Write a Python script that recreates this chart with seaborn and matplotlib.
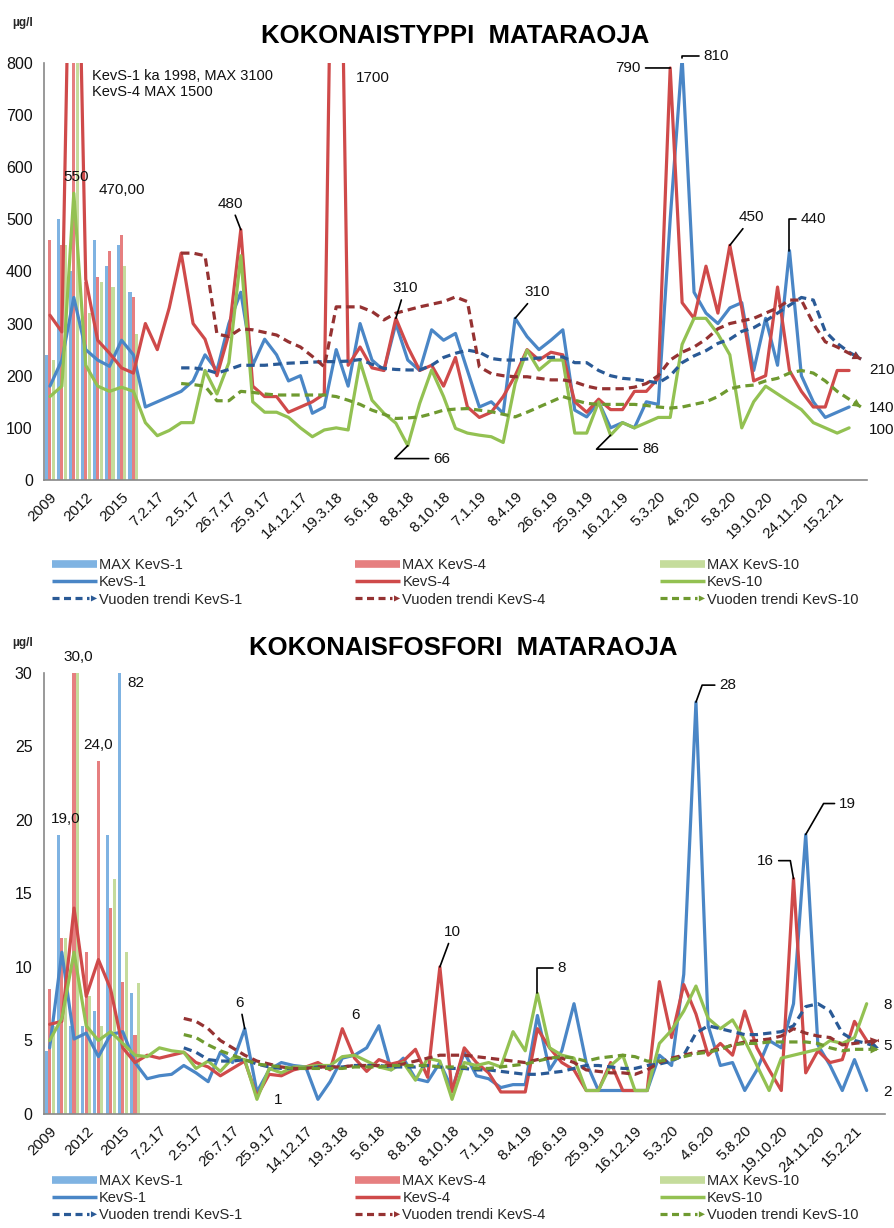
import numpy as np
import pandas as pd
import matplotlib
matplotlib.use("Agg")
import matplotlib.pyplot as plt
import seaborn as sns
from matplotlib.lines import Line2D
from matplotlib.patches import FancyArrowPatch
from matplotlib.legend_handler import HandlerLine2D

sns.set_theme(style="white")
plt.rcParams['font.family'] = ['Liberation Sans', 'DejaVu Sans']

# ---------------- data ----------------
years = ["2009", "2010", "2011", "2012", "2013", "2014", "2015", "2016"]
tick_labels = ["2009", "2012", "2015", "7.2.17", "2.5.17", "26.7.17", "25.9.17", "14.12.17",
               "19.3.18", "5.6.18", "8.8.18", "8.10.18", "7.1.19", "8.4.19", "26.6.19",
               "25.9.19", "16.12.19", "5.3.20", "4.6.20", "5.8.20", "19.10.20", "24.11.20",
               "15.2.21"]
n_categories = 69
trend_start = 11

series_names = ["KevS-1", "KevS-4", "KevS-10"]

# Kokonaistyppi (N)
max1_N = [240, 500, 400, 280, 460, 410, 450, 360]
max4_N = [460, 450, 1500, 380, 390, 440, 470, 350]
max10_N = [230, 450, 900, 320, 380, 370, 410, 280]

kevs1_N = [180, 230, 350, 250, 230, 218, 268, 240, 140, 150, 160, 170, 190, 240, 210, 300, 360, 220, 270, 240,
           190, 200, 128, 140, 250, 180, 300, 230, 210, 300, 230, 210, 288, 268, 281, 210, 140, 150, 128, 310,
           275, 250, 268, 288, 134, 121, 150, 100, 110, 100, 150, 145, 500, 810, 360, 320, 300, 330, 340, 210,
           310, 220, 440, 200, 150, 120, 130, 140]
kevs4_N = [316, 284, 1500, 385, 268, 243, 215, 205, 300, 250, 330, 435, 300, 270, 200, 280, 480, 180, 160, 160,
           130, 140, 150, 165, 1700, 220, 255, 215, 210, 310, 255, 210, 220, 180, 235, 140, 120, 130, 160, 200,
           250, 230, 245, 240, 150, 130, 155, 135, 135, 170, 170, 195, 790, 340, 310, 410, 320, 450, 330, 190,
           200, 370, 210, 170, 140, 140, 210, 210]
kevs10_N = [160, 180, 550, 220, 180, 170, 178, 170, 110, 85, 95, 110, 110, 210, 165, 225, 430, 150, 130, 130,
            120, 100, 83, 96, 100, 96, 227, 153, 128, 109, 66, 147, 211, 160, 99, 90, 86, 83, 72, 185,
            249, 211, 230, 230, 90, 90, 150, 86, 110, 100, 110, 120, 120, 260, 310, 310, 280, 240, 100, 150,
            180, 165, 150, 135, 110, 100, 90, 100]
trend1_N = [215, 215, 212, 205, 212, 220, 220, 220, 222, 224,
            225, 226, 227, 227, 228, 231, 222, 214, 212, 211,
            211, 220, 235, 243, 249, 245, 233, 230, 230, 232,
            234, 235, 236, 225, 225, 210, 200, 195, 193, 190,
            186, 200, 225, 238, 248, 262, 270, 285, 292, 305,
            320, 335, 350, 345, 285, 262, 245, 232]
trend4_N = [435, 435, 430, 280, 275, 290, 288, 283, 278, 265,
            255, 237, 217, 332, 332, 332, 323, 307, 320, 326,
            332, 337, 342, 351, 342, 217, 204, 200, 198, 198,
            195, 192, 192, 188, 180, 175, 175, 175, 178, 185,
            200, 230, 245, 255, 270, 290, 300, 305, 310, 320,
            330, 345, 345, 300, 265, 255, 243, 232]
trend10_N = [185, 183, 180, 152, 152, 170, 168, 165, 163, 163,
             163, 163, 163, 160, 153, 145, 134, 126, 118, 119,
             121, 127, 134, 136, 137, 134, 131, 126, 121, 130,
             140, 150, 160, 153, 147, 145, 145, 145, 145, 143,
             140, 138, 140, 145, 150, 160, 175, 180, 182, 190,
             195, 205, 210, 205, 190, 170, 155, 140]

# Kokonaisfosfori (P)
max1_P = [4.3, 19, 6, 6, 7, 19, 82, 8.2]
max4_P = [8.5, 12, 30, 11, 24, 14, 9, 5.4]
max10_P = [6, 12, 30, 8, 6, 16, 11, 8.9]

kevs1_P = [4.5, 11, 5.1, 5.5, 3.9, 5.4, 5.6, 3.5, 2.4, 2.6, 2.7, 3.3, 2.8, 2.2, 4.2, 3.5, 5.8, 1.5, 3.0, 3.5,
           3.3, 3.2, 1.0, 2.2, 3.8, 4.0, 4.5, 6.0, 3.0, 3.8, 2.4, 2.2, 3.5, 1.7, 4.2, 2.6, 2.4, 1.8, 2.0, 2.0,
           6.7, 3.0, 4.3, 7.5, 3.5, 1.6, 1.6, 1.6, 1.6, 1.6, 4.0, 3.3, 9.5, 28, 6.0, 3.3, 3.5, 1.6, 3.0, 5.0,
           4.5, 7.5, 19, 4.7, 3.3, 1.6, 3.7, 1.6]
kevs4_P = [6.1, 6.3, 14, 8, 10.5, 8.5, 4.5, 3.5, 4.0, 3.8, 4.0, 4.2, 3.5, 3.2, 2.6, 3.1, 3.6, 1.2, 2.7, 2.6,
           3.0, 3.2, 3.5, 3.0, 5.8, 3.8, 2.9, 3.7, 3.4, 3.6, 4.4, 2.5, 10, 1.5, 4.5, 3.5, 2.8, 1.5, 1.5, 1.5,
           5.8, 4.5, 3.5, 3.0, 1.6, 1.6, 3.5, 1.6, 1.6, 1.6, 9.0, 5.2, 8.8, 6.8, 4.0, 4.8, 4.0, 7.0, 4.5, 3.0,
           1.6, 16, 2.8, 4.3, 3.5, 3.7, 6.3, 5.0]
kevs10_P = [5.0, 6.5, 11, 6.0, 5.0, 5.6, 4.8, 4.0, 3.9, 4.5, 4.3, 4.2, 3.1, 3.6, 2.9, 3.8, 3.7, 1.0, 3.1, 2.8,
            3.2, 3.2, 3.3, 3.3, 3.9, 4.0, 3.6, 3.2, 3.0, 3.5, 2.3, 3.8, 3.6, 1.0, 3.5, 3.3, 3.5, 3.2, 5.6, 4.3,
            8.2, 4.5, 4.0, 3.8, 1.6, 1.6, 3.3, 4.0, 1.6, 1.6, 4.8, 5.7, 7.0, 8.7, 6.5, 5.8, 6.4, 5.0, 3.3, 1.6,
            3.8, 4.0, 4.2, 4.4, 5.0, 4.8, 5.2, 7.5]
trend1_P = [4.5, 4.2, 3.7, 3.6, 3.6, 3.7, 3.4, 3.2, 3.1, 3.1,
            3.1, 3.2, 3.2, 3.2, 3.3, 3.3, 3.3, 3.2, 3.2, 3.2,
            3.3, 3.2, 3.1, 3.1, 3.0, 3.0, 2.9, 2.8, 2.7, 2.7,
            2.8, 2.9, 3.1, 3.3, 3.3, 3.2, 3.1, 3.1, 3.3, 3.4,
            3.6, 4.0, 5.5, 6.0, 5.8, 5.6, 5.4, 5.4, 5.5, 5.6,
            6.0, 7.3, 7.5, 7.0, 5.5, 5.0, 4.8, 4.5]
trend4_P = [6.5, 6.3, 5.8, 5.0, 4.5, 4.0, 3.6, 3.4, 3.2, 3.1,
            3.1, 3.2, 3.2, 3.2, 3.3, 3.3, 3.3, 3.3, 3.4, 3.6,
            3.8, 4.0, 4.0, 4.0, 3.9, 3.8, 3.7, 3.6, 3.5, 3.7,
            3.8, 3.8, 3.5, 3.0, 2.9, 2.8, 2.8, 2.7, 3.0, 3.5,
            3.8, 4.0, 4.2, 4.3, 4.4, 4.7, 4.9, 5.0, 5.1, 5.3,
            5.8, 5.5, 5.3, 5.2, 4.7, 4.8, 4.9, 5.0]
trend10_P = [5.4, 5.2, 4.7, 4.3, 4.0, 3.7, 3.4, 3.3, 3.2, 3.1,
             3.1, 3.1, 3.1, 3.1, 3.2, 3.2, 3.2, 3.3, 3.3, 3.3,
             3.3, 3.2, 3.2, 3.2, 3.1, 3.1, 3.2, 3.3, 3.4, 3.6,
             3.8, 3.9, 3.8, 3.6, 3.8, 3.9, 4.0, 3.9, 3.6, 3.6,
             3.7, 3.9, 4.1, 4.2, 4.4, 4.7, 4.8, 4.8, 4.9, 4.9,
             4.9, 4.9, 4.8, 4.5, 4.3, 4.4, 4.4, 4.4]

# ---------------- style ----------------
bar_colors = ["#7fb3e2", "#e67f80", "#c5dc9c"]
line_colors = ["#4a86c6", "#cf4a4a", "#93c152"]
trend_colors = ["#2a5a96", "#953232", "#6f9a30"]
axis_grey = "#888888"
PX = 0.72  # points per pixel at 100 dpi

fig = plt.figure(figsize=(8.94, 12.28), dpi=100)
fig.patch.set_facecolor("white")
ax1 = fig.add_axes([0.0492, 0.6091, 0.9206, 0.3398])
ax2 = fig.add_axes([0.0487, 0.0928, 0.9412, 0.3594])


def draw_panel(ax, maxes, lines, trends, ymax, ystep):
    df = pd.DataFrame({
        "x": np.tile(np.arange(len(years)), 3),
        "val": np.concatenate([np.asarray(m, float) for m in maxes]),
        "series": np.repeat(["MAX " + s for s in series_names], len(years)),
    })
    sns.barplot(data=df, x="x", y="val", hue="series", native_scale=True,
                palette=bar_colors, width=0.86, gap=0.1, saturation=1,
                errorbar=None, legend=False, ax=ax, linewidth=0)
    for vals, col in zip(lines, line_colors):
        sns.lineplot(x=np.arange(len(vals)), y=vals, color=col, lw=2.3, ax=ax,
                     legend=False, sort=False)
    for vals, col in zip(trends, trend_colors):
        xs = np.arange(trend_start, trend_start + len(vals))
        sns.lineplot(x=xs, y=vals, color=col, lw=2.3, ax=ax, legend=False,
                     sort=False, linestyle=(0, (2.6, 1.6)))
        ax.annotate("", xy=(xs[-1], vals[-1]), xytext=(xs[-2], vals[-2]),
                    arrowprops=dict(arrowstyle="-|>", color=col, lw=0,
                                    mutation_scale=15, shrinkA=0, shrinkB=0))
    ax.set_xlim(-0.5, n_categories - 0.5)
    ax.set_ylim(0, ymax)
    ax.set_yticks(np.arange(0, ymax + ystep / 2, ystep))
    ax.set_xticks(np.arange(0, n_categories, 3))
    ax.set_xticklabels(tick_labels, rotation=45, ha="right", rotation_mode="anchor")
    ax.set_xticks(np.arange(-0.5, n_categories, 0.5), minor=True)
    ax.set_xlabel("")
    ax.set_ylabel("")
    for s in ["top", "right"]:
        ax.spines[s].set_visible(False)
    for s in ["left", "bottom"]:
        ax.spines[s].set_color(axis_grey)
        ax.spines[s].set_linewidth(1.2)
    ax.tick_params(axis="x", which="both", length=4, width=1, color=axis_grey,
                   direction="out", labelsize=11, pad=3, labelcolor="#111111")
    ax.tick_params(axis="y", which="major", length=4, width=1, color=axis_grey,
                   direction="out", labelsize=11.5, pad=4, labelcolor="#111111")
    ax.set_facecolor("white")


draw_panel(ax1, [max1_N, max4_N, max10_N], [kevs1_N, kevs4_N, kevs10_N],
           [trend1_N, trend4_N, trend10_N], 800, 100)
draw_panel(ax2, [max1_P, max4_P, max10_P], [kevs1_P, kevs4_P, kevs10_P],
           [trend1_P, trend4_P, trend10_P], 30, 5)


def label(ax, text, x, y, dx, dy, conn=None, ha="center", va="center"):
    kw = {}
    if conn is not None:
        kw["arrowprops"] = dict(arrowstyle="-", color="black", lw=1.2,
                                connectionstyle=conn, shrinkA=1, shrinkB=0)
    ax.annotate(text, xy=(x, y), xytext=(dx * PX, dy * PX), textcoords="offset points",
                ha=ha, va=va, fontsize=11, color="#111111", annotation_clip=False, **kw)


# ---- annotations top chart ----
label(ax1, "550", 2, kevs10_N[2], 2, 16)
label(ax1, "470,00", 6, max4_N[6], 0, 45)
label(ax1, "480", 16, kevs4_N[16], -10, 26, conn="arc3")
label(ax1, "1700", 24, 800, 37, -15)
label(ax1, "310", 29, kevs4_N[29], 9, 30, conn="arc3")
label(ax1, "310", 39, kevs1_N[39], 22, 26, conn="arc3")
label(ax1, "66", 30, kevs10_N[30], 34, -13, conn="angle,angleA=0,angleB=45,rad=0")
label(ax1, "790", 52, kevs4_N[52], -42, 0, conn="arc3")
label(ax1, "810", 53, kevs1_N[53], 34, 2, conn="angle,angleA=180,angleB=90,rad=0")
label(ax1, "86", 47, kevs10_N[47], 40, -14, conn="angle,angleA=0,angleB=45,rad=0")
label(ax1, "450", 57, kevs4_N[57], 22, 28, conn="arc3")
label(ax1, "440", 62, kevs1_N[62], 24, 32, conn="angle,angleA=180,angleB=90,rad=0")
label(ax1, "210", 67, kevs4_N[67], 20, 0, ha="left")
label(ax1, "140", 67, kevs1_N[67], 20, -1, ha="left")
label(ax1, "100", 67, kevs10_N[67], 20, -2, ha="left")

ax1.text(0.058, 0.985, "KevS-1 ka 1998, MAX 3100\nKevS-4 MAX 1500", transform=ax1.transAxes,
         ha="left", va="top", fontsize=10.5, color="#111111", linespacing=1.15)

# ---- annotations bottom chart ----
label(ax2, "30,0", 2, 30, 4, 16)
label(ax2, "82", 6, 30, 13, -10)
label(ax2, "24,0", 4, max4_P[4], 0, 16)
label(ax2, "19,0", 1, max1_P[1], 4, 16)
label(ax2, "6", 16, kevs1_P[16], -5, 26, conn="arc3")
label(ax2, "1", 17, kevs10_P[17], 21, -1)
label(ax2, "6", 24, kevs4_P[24], 13, 14)
label(ax2, "10", 32, kevs4_P[32], 13, 35, conn="arc3")
label(ax2, "8", 40, kevs10_P[40], 24, 25, conn="angle,angleA=180,angleB=90,rad=0")
label(ax2, "28", 53, kevs1_P[53], 32, 17, conn="angle,angleA=180,angleB=70,rad=0")
label(ax2, "16", 61, kevs4_P[61], -28, 18, conn="angle,angleA=0,angleB=100,rad=0")
label(ax2, "19", 62, kevs1_P[62], 42, 31, conn="angle,angleA=180,angleB=60,rad=0")
label(ax2, "8", 67, kevs10_P[67], 17, -1, ha="left")
label(ax2, "5", 67, kevs4_P[67], 17, -6, ha="left")
label(ax2, "2", 67, kevs1_P[67], 17, -1, ha="left")

# ---- titles ----
fig.text(0.509, 0.9707, "KOKONAISTYPPI  MATARAOJA", ha="center", va="center",
         fontsize=18.5, fontweight="bold", color="black")
fig.text(0.518, 0.4723, "KOKONAISFOSFORI  MATARAOJA", ha="center", va="center",
         fontsize=18.5, fontweight="bold", color="black")
fig.text(0.0134, 0.9815, "µg/l", ha="left", va="center", fontsize=8.5, fontweight="bold")
fig.text(0.0134, 0.4765, "µg/l", ha="left", va="center", fontsize=8.5, fontweight="bold")


# ---- legends ----
class ArrowHandler(HandlerLine2D):
    def create_artists(self, legend, orig_handle, xdescent, ydescent, width, height,
                       fontsize, trans):
        y = (height - ydescent) / 2
        x0 = -xdescent
        x1 = -xdescent + width
        col = orig_handle.get_color()
        line = Line2D([x0, x1 - 6], [y, y], color=col, lw=2.3, linestyle=(0, (2.2, 1.4)))
        arr = FancyArrowPatch((x1 - 9, y), (x1, y), arrowstyle="-|>", mutation_scale=11,
                              color=col, lw=0, shrinkA=0, shrinkB=0)
        line.set_transform(trans)
        arr.set_transform(trans)
        return [line, arr]


legend_font = {"family": ["Liberation Sans Narrow", "Liberation Sans"], "size": 10.5}


def add_legends(y_top):
    xs = [0.058, 0.397, 0.738]
    for i, x in enumerate(xs):
        handles = [
            Line2D([0], [0], color=bar_colors[i], lw=5.5, solid_capstyle="butt"),
            Line2D([0], [0], color=line_colors[i], lw=2.5, solid_capstyle="butt"),
            Line2D([0], [0], color=trend_colors[i], lw=2.3),
        ]
        labels = ["MAX " + series_names[i], series_names[i], "Vuoden trendi " + series_names[i]]
        fig.legend(handles, labels, loc="upper left", bbox_to_anchor=(x, y_top),
                   frameon=False, prop=legend_font, handlelength=3.1, handletextpad=0.15,
                   labelspacing=0.22, borderpad=0, borderaxespad=0,
                   handler_map={handles[2]: ArrowHandler()})


add_legends(0.5455)
add_legends(0.0440)

fig.savefig("out.png", dpi=100, facecolor="white")
